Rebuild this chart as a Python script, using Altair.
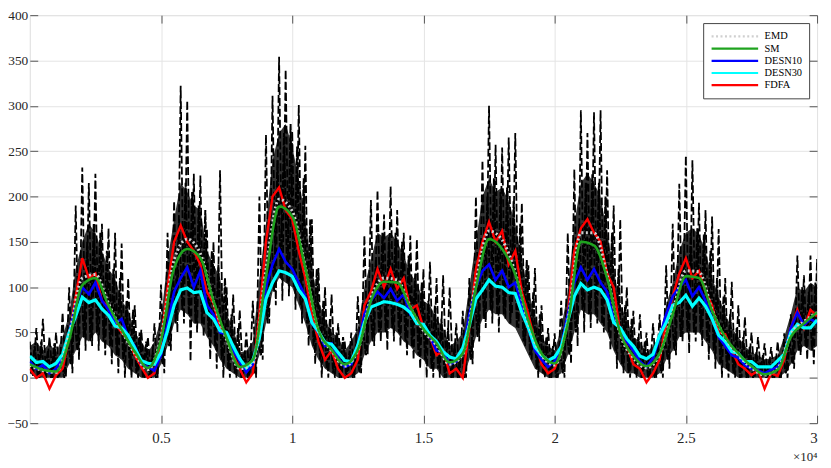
import altair as alt
import pandas as pd

FONT = "Liberation Serif"
W, H = 795, 412

# sample grids (samples)
fine_x = [250 * i for i in range(121)]
coarse_x = [500 * i for i in range(61)]

# raw noisy signal: spike tops / bottoms per 250-sample bin
black_upper = [40, 55, 65, 45, 50, 72, 100, 190, 232, 215,
               225, 170, 165, 160, 148, 110, 80, 53, 45, 60,
               103, 160, 195, 322, 306, 225, 223, 165, 150, 229,
               100, 92, 75, 50, 85, 200, 268, 311, 354, 340,
               272, 301, 256, 175, 121, 100, 92, 60, 40, 50,
               90, 157, 196, 207, 180, 211, 185, 160, 157, 153,
               120, 128, 110, 113, 100, 60, 74, 110, 200, 240,
               300, 257, 254, 265, 270, 193, 124, 121, 80, 55,
               49, 85, 160, 230, 295, 270, 293, 295, 229, 190,
               175, 100, 74, 70, 50, 60, 70, 124, 170, 214,
               245, 240, 193, 185, 178, 164, 110, 106, 80, 67,
               50, 45, 38, 34, 40, 49, 70, 135, 113, 135, 131]
black_lower = [2, 0, 0, 0, 0, 0, 5, 20, 30, 35,
               30, 25, 15, 5, 0, 0, 0, 0, 0, 0,
               5, 30, 50, 60, 18, 50, 45, 20, 10, 0,
               0, 0, 0, 0, 0, 20, 60, 80, 85, 90,
               75, 60, 35, 15, 0, 0, 0, 0, 0, 0,
               5, 25, 35, 40, 30, 40, 35, 25, 20, 10,
               0, 0, 0, 0, 0, 0, 0, 15, 40, 55,
               60, 50, 65, 70, 55, 35, 20, 0, 0, 0,
               0, 0, 15, 35, 50, 55, 60, 50, 30, 10,
               5, 0, 0, 0, 0, 0, 0, 10, 25, 40,
               27, 40, 35, 20, 10, 0, 0, 0, 0, 0,
               0, 0, 0, 0, 0, 0, 10, 25, 20, 15, 25]
# dense core of the raw signal, per 250-sample bin
core_upper = [35, 40, 30, 38, 28, 45, 70, 120, 150, 170,
              160, 140, 120, 110, 85, 75, 50, 40, 28, 40,
              65, 130, 175, 215, 205, 190, 185, 140, 125, 110,
              70, 55, 28, 30, 40, 110, 170, 240, 270, 280,
              255, 220, 175, 120, 85, 65, 50, 45, 30, 40,
              55, 100, 130, 160, 155, 160, 150, 135, 115, 105,
              85, 80, 65, 55, 35, 40, 50, 100, 150, 200,
              220, 205, 210, 195, 170, 130, 95, 70, 45, 35,
              30, 55, 95, 170, 215, 225, 215, 200, 160, 120,
              80, 65, 45, 40, 28, 35, 45, 80, 105, 140,
              160, 165, 158, 140, 110, 90, 70, 55, 45, 35,
              28, 25, 20, 22, 25, 45, 70, 100, 95, 105, 100]
core_lower = [5, 0, 0, 0, 0, 0, 15, 30, 45, 40,
              50, 40, 35, 25, 20, 10, 5, 0, 0, 0,
              15, 35, 60, 75, 70, 60, 60, 45, 35, 20,
              10, 5, 0, 0, 5, 25, 60, 95, 110, 105,
              100, 80, 60, 35, 20, 10, 5, 0, 0, 0,
              5, 25, 40, 50, 50, 55, 50, 40, 35, 25,
              20, 10, 10, 0, 0, 0, 0, 20, 45, 65,
              75, 70, 70, 60, 55, 40, 25, 10, 5, 0,
              0, 5, 25, 50, 75, 70, 70, 60, 50, 30,
              15, 5, 5, 0, 0, 0, 5, 20, 30, 45,
              50, 50, 50, 40, 30, 15, 10, 5, 0, 0,
              0, 0, 0, 0, 0, 5, 15, 30, 35, 30, 35]

# smooth estimates, every 500 samples
sm_values = [15, 9, 7, 42, 102, 110, 80, 53, 29, 11,
             42, 121, 142, 132, 85, 44, 12, 20, 112, 189,
             178, 121, 53, 31, 15, 31, 85, 106, 105, 78,
             54, 38, 17, 27, 99, 153, 142, 114, 63, 27,
             16, 60, 150, 146, 110, 50, 24, 13, 27, 70,
             112, 110, 74, 45, 27, 13, 4, 9, 45, 60, 72]
emd_values = [14, 8, 6, 48, 110, 114, 82, 52, 27, 9,
              45, 130, 153, 137, 84, 42, 10, 16, 120, 197,
              184, 122, 52, 30, 13, 30, 88, 110, 108, 78,
              52, 36, 15, 26, 106, 162, 152, 116, 60, 25,
              14, 63, 160, 160, 113, 48, 22, 11, 26, 73,
              118, 117, 75, 44, 25, 11, 3, 10, 48, 62, 72]

# noisy estimates, every 250 samples
desn30_values = [24, 17, 18, 12, 16, 26, 50, 68, 89, 83,
                 86, 76, 69, 57, 55, 47, 33, 19, 16, 15,
                 28, 52, 80, 97, 99, 94, 95, 72, 65, 52,
                 50, 35, 21, 11, 19, 44, 87, 105, 118, 116,
                 112, 97, 87, 61, 51, 39, 37, 28, 19, 18,
                 36, 61, 78, 81, 84, 83, 81, 78, 72, 60,
                 59, 47, 40, 29, 23, 21, 33, 58, 87, 97,
                 108, 101, 100, 94, 93, 72, 55, 34, 25, 19,
                 23, 34, 62, 90, 104, 97, 100, 97, 86, 61,
                 55, 43, 35, 24, 21, 26, 47, 61, 80, 83,
                 91, 79, 88, 79, 65, 47, 40, 29, 27, 18,
                 18, 12, 12, 12, 19, 26, 50, 59, 55, 55, 64]
desn10_values = [18, 10, 14, 5, 10, 22, 50, 80, 100, 92,
                 105, 85, 75, 60, 65, 45, 35, 15, 12, 8,
                 25, 60, 95, 110, 122, 100, 118, 80, 70, 50,
                 48, 30, 18, 6, 15, 50, 100, 125, 142, 128,
                 120, 105, 90, 60, 50, 35, 38, 22, 12, 15,
                 35, 70, 85, 95, 88, 98, 85, 92, 70, 65,
                 55, 45, 30, 28, 15, 18, 28, 70, 100, 118,
                 125, 108, 118, 100, 105, 80, 55, 30, 20, 12,
                 18, 35, 70, 105, 122, 108, 120, 105, 95, 65,
                 55, 40, 30, 18, 12, 22, 45, 70, 90, 100,
                 108, 90, 100, 85, 65, 45, 35, 25, 22, 14,
                 10, 8, 5, 9, 12, 25, 55, 72, 58, 65, 60]
fdfa_values = [10, 0, 5, -12, 3, 10, 45, 90, 132, 110,
               115, 85, 78, 60, 50, 42, 25, 12, 0, 5,
               40, 100, 150, 168, 150, 140, 125, 95, 82, 55,
               45, 25, 10, -5, 5, 70, 150, 200, 210, 185,
               175, 140, 110, 70, 40, 20, 30, 10, 0, 5,
               20, 80, 95, 120, 100, 120, 98, 110, 75, 80,
               55, 45, 25, 30, 5, 10, 0, 55, 120, 150,
               172, 150, 162, 125, 140, 95, 70, 40, 15, 5,
               10, 30, 70, 140, 165, 175, 160, 150, 115, 100,
               50, 35, 15, 10, -5, 5, 20, 60, 90, 115,
               132, 110, 118, 95, 80, 50, 48, 30, 15, 10,
               3, 8, -12, 5, 2, 20, 55, 75, 55, 75, 68]

series_names = ["EMD", "SM", "DESN10", "DESN30", "FDFA"]
series_colors = ["#cfcfcf", "#1fa31f", "#0000ff", "#00ffff", "#ff0000"]
series_dashes = [[2, 2.5], [1, 0], [1, 0], [1, 0], [1, 0]]

y_ticks = [-50, 0, 50, 100, 150, 200, 250, 300, 350, 400]
x_ticks = [5000, 10000, 15000, 20000, 25000, 30000]

# ---- tables ----
black_rows = []
for i, (hi, lo) in enumerate(zip(black_upper, black_lower)):
    black_rows.append({"x": fine_x[i], "y": hi})
    black_rows.append({"x": fine_x[i] + 125, "y": lo})
black_df = pd.DataFrame(black_rows)

core_rows = []
for i, (hi, lo) in enumerate(zip(core_upper, core_lower)):
    core_rows.append({"x": fine_x[i] + 62, "y": lo})
    core_rows.append({"x": fine_x[i] + 188, "y": hi})
core_df = pd.DataFrame(core_rows)
core_band_df = pd.DataFrame({"x": fine_x, "lo": core_lower, "hi": core_upper})

rows = []
for name, xs, vals in [("EMD", coarse_x, emd_values), ("SM", coarse_x, sm_values),
                       ("DESN10", fine_x, desn10_values), ("DESN30", fine_x, desn30_values),
                       ("FDFA", fine_x, fdfa_values)]:
    for xv, yv in zip(xs, vals):
        rows.append({"x": xv, "y": yv, "series": name})
series_df = pd.DataFrame(rows)

xscale = alt.Scale(domain=[0, 30000], nice=False, zero=False)
yscale = alt.Scale(domain=[-50, 400], nice=False, zero=False)

common_axis = dict(labelColor="#262626", tickColor="#555555", tickWidth=1,
                   tickSize=8, offset=-8, domain=False)

x_bottom = alt.Axis(orient="bottom", values=x_ticks, labelExpr="datum.value / 10000",
                    grid=True, gridColor="#e4e4e4", labelPadding=8,
                    labelFont=FONT, labelFontSize=15,
                    title="×10⁴", titleAnchor="end", titleAlign="right", titleFont=FONT,
                    titleFontSize=13, titleFontWeight="normal", titleColor="#262626",
                    titlePadding=5, **common_axis)
y_left = alt.Axis(orient="left", values=y_ticks, grid=True, gridColor="#e4e4e4",
                  labelFont=FONT, labelFontSize=13.5, labelPadding=2, title=None,
                  **common_axis)
x_top = alt.Axis(orient="top", values=x_ticks, labels=False, grid=False, title=None,
                 **common_axis)
y_right = alt.Axis(orient="right", values=y_ticks, labels=False, grid=False, title=None,
                   **common_axis)

legend = alt.Legend(orient="none", legendX=680, legendY=8, title=None,
                    fillColor="white", strokeColor="#444444", padding=7,
                    symbolType="M-1,0H8.4", symbolSize=100, symbolStrokeWidth=2.2,
                    labelFont=FONT, labelFontSize=10.5, labelColor="black",
                    rowPadding=0.3, labelOffset=42)

color_enc = alt.Color("series:N", scale=alt.Scale(domain=series_names, range=series_colors),
                      legend=legend)
dash_enc = alt.StrokeDash("series:N", scale=alt.Scale(domain=series_names, range=series_dashes),
                          legend=legend)

# underlay so the dense part of the raw signal reads as a filled band
core_band = alt.Chart(core_band_df).mark_area(color="black", opacity=0.8, clip=True).encode(
    x=alt.X("x:Q", scale=xscale, axis=x_bottom),
    y=alt.Y("lo:Q", scale=yscale, axis=y_left),
    y2="hi:Q",
)

core = alt.Chart(core_df).mark_line(
    color="black", strokeWidth=2.0, strokeDash=[7, 1.5], clip=True
).encode(
    x=alt.X("x:Q", scale=xscale, axis=None),
    y=alt.Y("y:Q", scale=yscale, axis=None),
)

black = alt.Chart(black_df).mark_line(
    color="black", strokeWidth=1.8, strokeDash=[8, 3], clip=True
).encode(
    x=alt.X("x:Q", scale=xscale, axis=None),
    y=alt.Y("y:Q", scale=yscale, axis=None),
)

def series_layer(name, width, interp="linear", axes=False):
    enc = dict(
        x=alt.X("x:Q", scale=xscale, axis=x_top if axes else None),
        y=alt.Y("y:Q", scale=yscale, axis=y_right if axes else None),
        color=color_enc,
        strokeDash=dash_enc,
    )
    return alt.Chart(series_df).transform_filter(
        alt.datum.series == name
    ).mark_line(strokeWidth=width, clip=True, interpolate=interp).encode(**enc)

red = series_layer("FDFA", 2.4)
blue = series_layer("DESN10", 2.6)
cyan = series_layer("DESN30", 3.2)
emd = series_layer("EMD", 3.0, interp="monotone")
green = series_layer("SM", 2.6, interp="monotone", axes=True)

chart = alt.layer(core_band, core, black, red, blue, cyan, emd, green).properties(
    width=W, height=H,
    autosize=alt.AutoSizeParams(type="none"),
    padding={"left": 22, "top": 5, "right": 6, "bottom": 38},
).configure_view(
    stroke="#555555", strokeWidth=1
).configure(background="white")

chart.save("out.html", embed_options={"renderer": "svg", "actions": False})
